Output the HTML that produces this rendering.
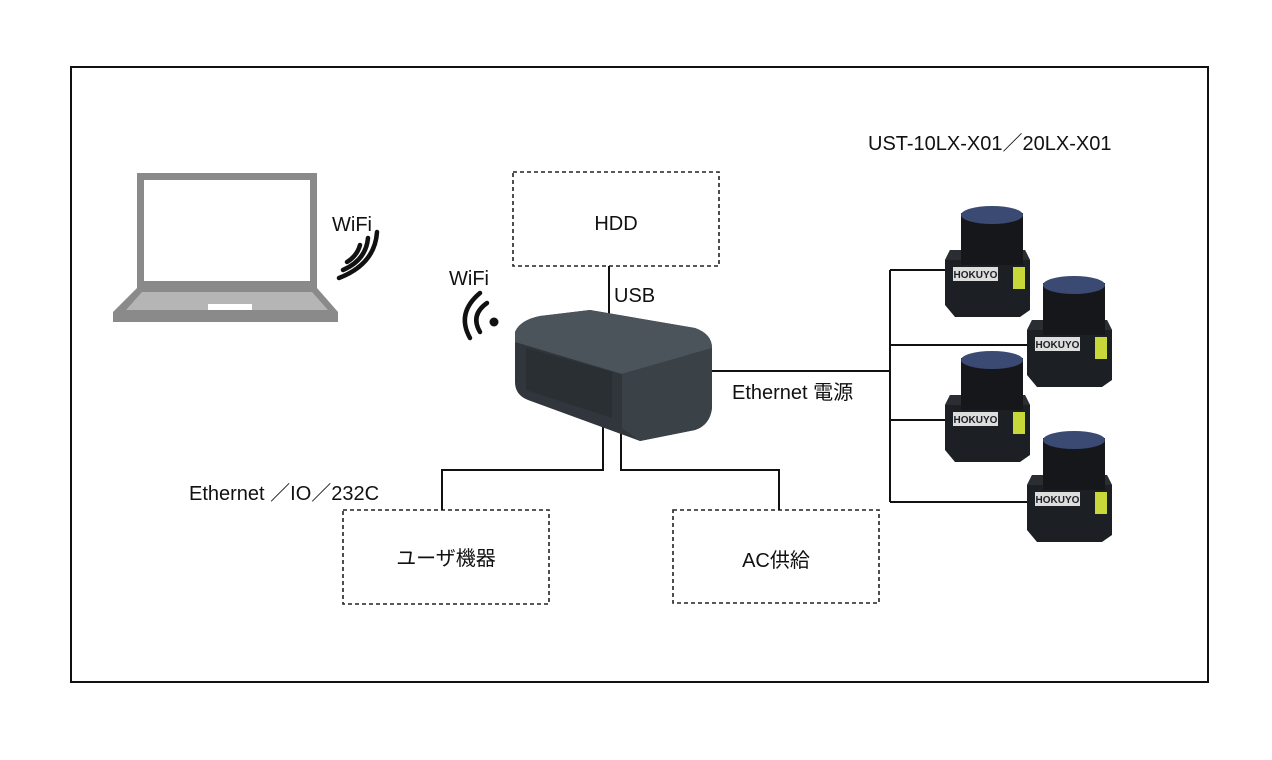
<!DOCTYPE html>
<html><head><meta charset="utf-8"><style>
body{margin:0;background:#fff}
svg text{font-family:"Liberation Sans","Noto Sans CJK JP",sans-serif;fill:#111}
</style></head><body>
<svg width="1272" height="755" viewBox="0 0 1272 755" xmlns="http://www.w3.org/2000/svg">
<rect x="71" y="67" width="1137" height="615" fill="none" stroke="#111" stroke-width="2"/>
<g fill="none" stroke="#222" stroke-width="1.6" stroke-dasharray="4,3">
 <rect x="513" y="172" width="206" height="94"/>
 <rect x="343" y="510" width="206" height="94"/>
 <rect x="673" y="510" width="206" height="93"/>
</g>
<g fill="none" stroke="#111" stroke-width="2">
 <path d="M609 266 V322"/>
 <path d="M603 410 V470 H442 V510"/>
 <path d="M621 410 V470 H779 V510"/>
 <path d="M700 371 H890"/>
 <path d="M890 270 V502"/>
 <path d="M890 270 H950 M890 345 H1030 M890 420 H950 M890 502 H1030"/>
</g>
<!-- laptop -->
<rect x="137" y="173" width="180" height="115" fill="#8a8a8a"/>
<rect x="144" y="180" width="166" height="101" fill="#fff"/>
<path d="M137 288 H317 L338 312 V322 H113 V312 Z" fill="#8a8a8a"/>
<path d="M142 292 H312 L328 310 H126 Z" fill="#b5b5b5"/>
<rect x="208" y="304" width="44" height="6" fill="#fff"/>
<!-- router -->
<path d="M515 332 Q520 320 540 316 L590 310 L695 328 Q712 334 712 348 L712 408 Q710 425 695 430 L640 441 L528 400 Q515 395 515 382 Z" fill="#30363b"/>
<path d="M515 332 Q520 320 540 316 L590 310 L695 328 Q712 334 712 348 L622 374 L515 342 Z" fill="#4c545b"/>
<path d="M622 374 L712 348 L712 408 Q710 425 695 430 L640 441 L622 428 Z" fill="#3a4147"/>
<path d="M526 348 L612 372 L612 418 L526 390 Z" fill="#2a2f34"/>
<!-- sensors -->
<g transform="translate(945,205)">
 <path d="M5 45 L80 45 L85 55 L85 105 L75 112 L10 112 L0 100 L0 55 Z" fill="#1c1f24"/>
 <path d="M5 45 L80 45 L85 55 L0 55 Z" fill="#2a2e33"/>
 <rect x="16" y="8" width="62" height="52" fill="#15171b"/>
 <ellipse cx="47" cy="10" rx="31" ry="9" fill="#3a4a72"/>
 <rect x="8" y="62" width="45" height="14" fill="#ddd"/>
 <text x="30.5" y="73" font-size="10" text-anchor="middle" font-weight="bold" style="fill:#1c1f24">HOKUYO</text>
 <rect x="68" y="62" width="12" height="22" fill="#c8d838"/>
</g>
<g transform="translate(1027,275)">
 <path d="M5 45 L80 45 L85 55 L85 105 L75 112 L10 112 L0 100 L0 55 Z" fill="#1c1f24"/>
 <path d="M5 45 L80 45 L85 55 L0 55 Z" fill="#2a2e33"/>
 <rect x="16" y="8" width="62" height="52" fill="#15171b"/>
 <ellipse cx="47" cy="10" rx="31" ry="9" fill="#3a4a72"/>
 <rect x="8" y="62" width="45" height="14" fill="#ddd"/>
 <text x="30.5" y="73" font-size="10" text-anchor="middle" font-weight="bold" style="fill:#1c1f24">HOKUYO</text>
 <rect x="68" y="62" width="12" height="22" fill="#c8d838"/>
</g>
<g transform="translate(945,350)">
 <path d="M5 45 L80 45 L85 55 L85 105 L75 112 L10 112 L0 100 L0 55 Z" fill="#1c1f24"/>
 <path d="M5 45 L80 45 L85 55 L0 55 Z" fill="#2a2e33"/>
 <rect x="16" y="8" width="62" height="52" fill="#15171b"/>
 <ellipse cx="47" cy="10" rx="31" ry="9" fill="#3a4a72"/>
 <rect x="8" y="62" width="45" height="14" fill="#ddd"/>
 <text x="30.5" y="73" font-size="10" text-anchor="middle" font-weight="bold" style="fill:#1c1f24">HOKUYO</text>
 <rect x="68" y="62" width="12" height="22" fill="#c8d838"/>
</g>
<g transform="translate(1027,430)">
 <path d="M5 45 L80 45 L85 55 L85 105 L75 112 L10 112 L0 100 L0 55 Z" fill="#1c1f24"/>
 <path d="M5 45 L80 45 L85 55 L0 55 Z" fill="#2a2e33"/>
 <rect x="16" y="8" width="62" height="52" fill="#15171b"/>
 <ellipse cx="47" cy="10" rx="31" ry="9" fill="#3a4a72"/>
 <rect x="8" y="62" width="45" height="14" fill="#ddd"/>
 <text x="30.5" y="73" font-size="10" text-anchor="middle" font-weight="bold" style="fill:#1c1f24">HOKUYO</text>
 <rect x="68" y="62" width="12" height="22" fill="#c8d838"/>
</g>
<!-- wifi icons -->
<g fill="none" stroke="#111" stroke-width="4.5" stroke-linecap="round">
 <path d="M347 262 Q357 256 360 245"/>
 <path d="M343 270 Q366 260 368 238"/>
 <path d="M339 278 Q375 264 377 232"/>
 <path d="M480 293 Q456 313 470 338"/>
 <path d="M487 303 Q470 315 480 332"/>
</g>
<circle cx="494" cy="322" r="4.5" fill="#111"/>
<text x="332" y="231" font-size="20">WiFi</text>
<text x="449" y="285" font-size="20">WiFi</text>
<text x="616" y="230" font-size="20" text-anchor="middle">HDD</text>
<text x="614" y="302" font-size="20">USB</text>
<text x="868" y="150" font-size="20">UST-10LX-X01／20LX-X01</text>
<text x="732" y="399" font-size="20">Ethernet 電源</text>
<text x="189" y="500" font-size="20">Ethernet ／IO／232C</text>
<text x="446" y="565" font-size="20" text-anchor="middle">ユーザ機器</text>
<text x="776" y="567" font-size="20" text-anchor="middle">AC供給</text>
</svg>
</body></html>
